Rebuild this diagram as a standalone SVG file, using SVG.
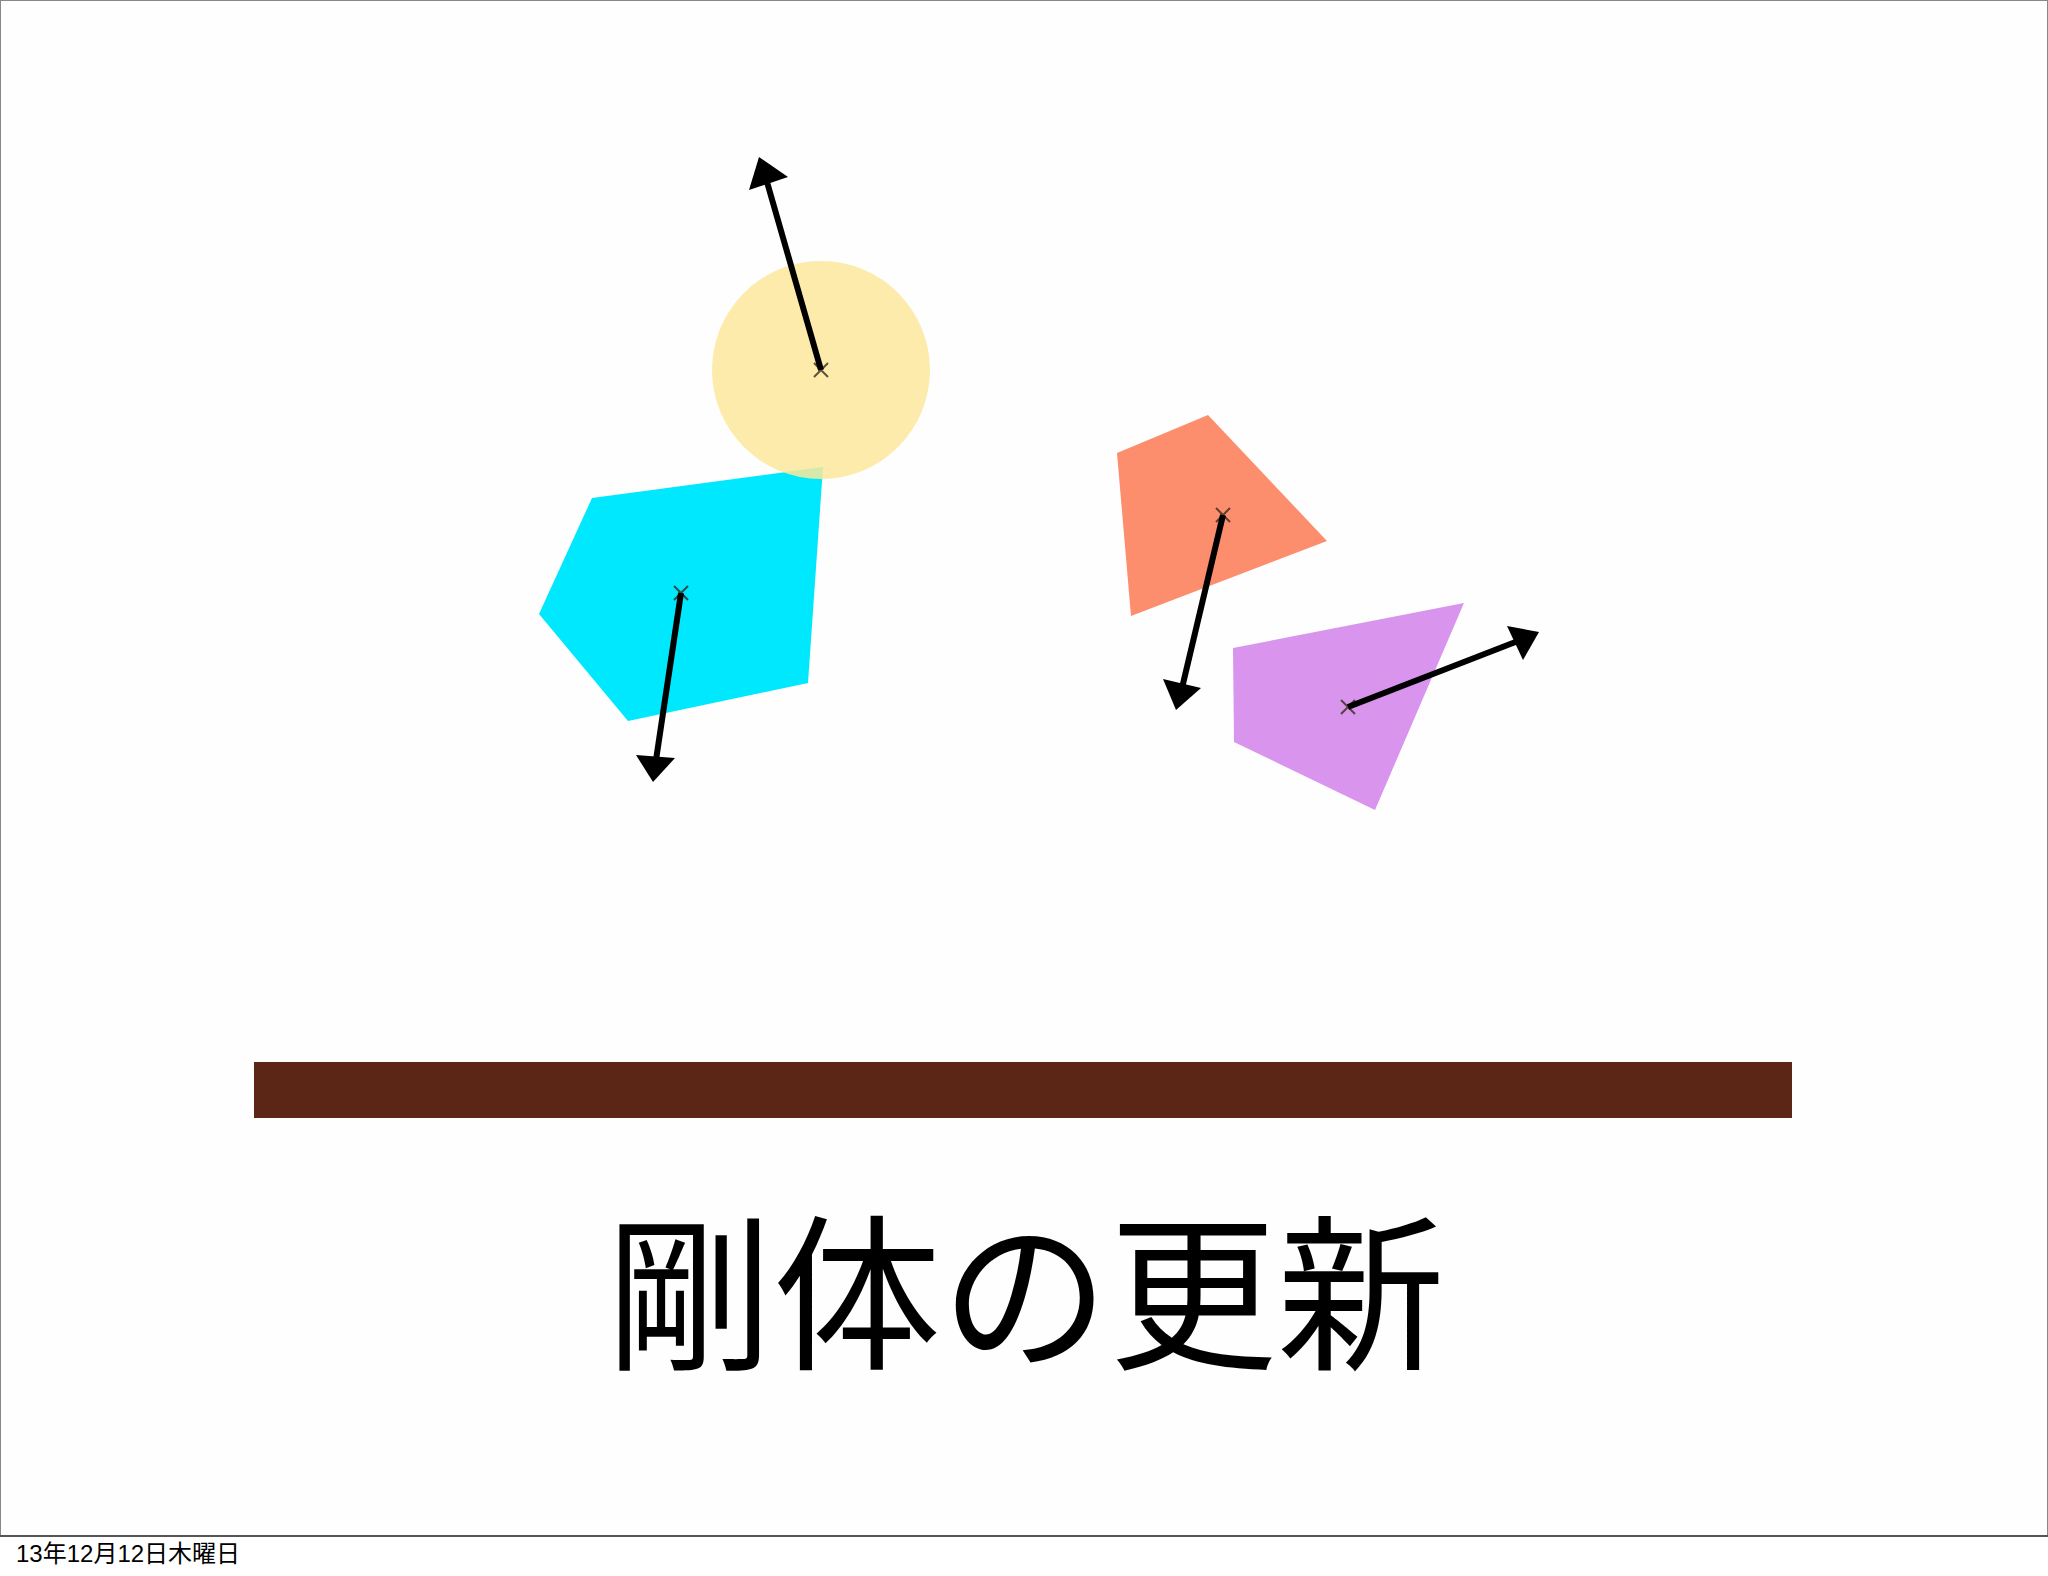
<svg xmlns="http://www.w3.org/2000/svg" width="2048" height="1576" viewBox="0 0 2048 1576">
<style>
.shaft{stroke:#000;stroke-width:6;fill:none;stroke-linecap:butt}
.head{fill:#000}
.mark{stroke:#3a2a1a;stroke-width:2;fill:none;opacity:0.8}
.title{font-family:"Noto Sans CJK JP","Noto Sans CJK SC",sans-serif;font-size:168px;fill:#000}
.foot{font-family:"Liberation Sans","Noto Sans CJK JP",sans-serif;font-size:24px;fill:#000}
</style>
<rect x="0" y="0" width="2048" height="1576" fill="#fff"/>
<rect x="0.5" y="0.5" width="2047" height="1535" fill="#fefefe" stroke="#888" stroke-width="1"/>
<line x1="0" y1="1536" x2="2048" y2="1536" stroke="#555" stroke-width="2"/>

<g id="ground"><rect x="254" y="1062" width="1538" height="56" fill="#5b2616"/></g>

<g id="pentagon">
<polygon points="592,498 823,467 808,683 628,721 539,614" fill="#00e8fe"/>
<path class="mark" d="M674,586 L688,600 M688,586 L674,600"/>
</g>
<g id="circle">
<circle cx="821" cy="370" r="109" fill="#fce79b" fill-opacity="0.85"/>
<path class="mark" d="M814,363 L828,377 M828,363 L814,377"/>
</g>
<g id="trapezoid">
<polygon points="1117,453 1208,415 1327,541 1131,616" fill="#fc8e6e"/>
<path class="mark" d="M1216,508 L1230,522 M1230,508 L1216,522"/>
</g>
<g id="quad">
<polygon points="1233,648 1464,603 1375,810 1234,742" fill="#d994ee"/>
<path class="mark" d="M1341,700 L1355,714 M1355,700 L1341,714"/>
</g>

<g id="connectors">
<line class="shaft" x1="821" y1="370" x2="767" y2="182"/>
<polygon class="head" points="759,157 788,177 749,190"/>
<line class="shaft" x1="681" y1="593" x2="656" y2="760"/>
<polygon class="head" points="653,782 636,755 675,758"/>
<line class="shaft" x1="1223" y1="515" x2="1182" y2="688"/>
<polygon class="head" points="1176,710 1163,679 1201,688"/>
<line class="shaft" x1="1348" y1="707" x2="1518" y2="641"/>
<polygon class="head" points="1539,632 1507,626 1523,660"/>
</g>

<text class="title" x="1025" y="1357" text-anchor="middle">剛体の更新</text>
<text class="foot" x="16" y="1562">13年12月12日木曜日</text>
</svg>
